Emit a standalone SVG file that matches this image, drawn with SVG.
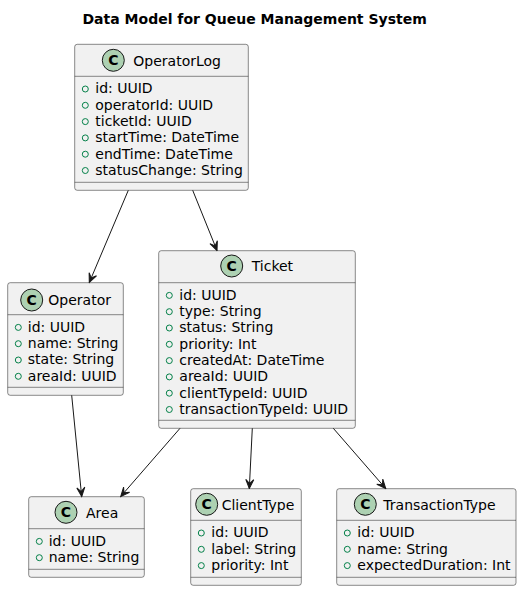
<svg xmlns="http://www.w3.org/2000/svg" width="522" height="591" viewBox="0 0 522 591">
<style>
.box{fill:#F1F1F1;stroke:#181818;stroke-width:0.5}
.sep{stroke:#181818;stroke-width:0.5}
.ci{fill:#ADD1B2;stroke:#181818;stroke-width:1}
.cl{font-family:"DejaVu Sans",sans-serif;font-size:14px;font-weight:bold;fill:#000;text-anchor:middle}
.nm{font-family:"DejaVu Sans",sans-serif;font-size:14px;fill:#000}
.at{font-family:"DejaVu Sans",sans-serif;font-size:14px;fill:#000}
.vis{fill:none;stroke:#038048;stroke-width:1}
.ttl{font-family:"DejaVu Sans",sans-serif;font-size:14px;font-weight:bold;fill:#000}
.ln{stroke:#181818;stroke-width:1;fill:none;marker-end:url(#arr)}
</style>
<defs>
<marker id="arr" markerUnits="userSpaceOnUse" viewBox="-10 -5 11 10" markerWidth="11" markerHeight="10" refX="0" refY="0" orient="auto">
<path d="M0,0 L-9,-4 L-5,0 L-9,4 Z" fill="#181818" stroke="#181818" stroke-width="1" stroke-linejoin="miter"/>
</marker>
</defs>
<rect width="522" height="591" fill="#FFFFFF"/>
<text class="ttl" x="82.5" y="23.5">Data Model for Queue Management System</text>

<g id="OperatorLog">
<rect class="box" x="74.7" y="44.3" width="173.6" height="146" rx="2.5"/>
<circle class="ci" cx="113.3" cy="60.3" r="11"/>
<text class="cl" x="113.3" y="65.3">C</text>
<text class="nm" x="133.3" y="65.5">OperatorLog</text>
<line class="sep" x1="74.7" y1="76.3" x2="248.3" y2="76.3"/>
<circle class="vis" cx="85.3" cy="89" r="3"/><text class="at" x="95.3" y="93.3">id: UUID</text>
<circle class="vis" cx="85.3" cy="105.3" r="3"/><text class="at" x="95.3" y="109.6">operatorId: UUID</text>
<circle class="vis" cx="85.3" cy="121.6" r="3"/><text class="at" x="95.3" y="125.9">ticketId: UUID</text>
<circle class="vis" cx="85.3" cy="137.9" r="3"/><text class="at" x="95.3" y="142.2">startTime: DateTime</text>
<circle class="vis" cx="85.3" cy="154.2" r="3"/><text class="at" x="95.3" y="158.5">endTime: DateTime</text>
<circle class="vis" cx="85.3" cy="170.5" r="3"/><text class="at" x="95.3" y="174.8">statusChange: String</text>
<line class="sep" x1="74.7" y1="182.3" x2="248.3" y2="182.3"/>
</g>

<g id="Operator">
<rect class="box" x="7.7" y="282.7" width="115.6" height="112.6" rx="2.5"/>
<circle class="ci" cx="31.7" cy="300" r="11"/>
<text class="cl" x="31.7" y="305">C</text>
<text class="nm" x="48.3" y="305.3">Operator</text>
<line class="sep" x1="7.7" y1="314.7" x2="123.3" y2="314.7"/>
<circle class="vis" cx="18.3" cy="327.4" r="3"/><text class="at" x="27.8" y="331.7">id: UUID</text>
<circle class="vis" cx="18.3" cy="343.7" r="3"/><text class="at" x="27.8" y="348">name: String</text>
<circle class="vis" cx="18.3" cy="360" r="3"/><text class="at" x="27.8" y="364.3">state: String</text>
<circle class="vis" cx="18.3" cy="376.3" r="3"/><text class="at" x="27.8" y="380.6">areaId: UUID</text>
<line class="sep" x1="7.7" y1="387.3" x2="123.3" y2="387.3"/>
</g>

<g id="Ticket">
<rect class="box" x="158.7" y="250.7" width="196.6" height="177.6" rx="2.5"/>
<circle class="ci" cx="231.7" cy="266" r="11"/>
<text class="cl" x="231.7" y="271">C</text>
<text class="nm" x="251.7" y="271.3">Ticket</text>
<line class="sep" x1="158.7" y1="282.7" x2="355.3" y2="282.7"/>
<circle class="vis" cx="169.3" cy="295.4" r="3"/><text class="at" x="179.3" y="299.7">id: UUID</text>
<circle class="vis" cx="169.3" cy="311.7" r="3"/><text class="at" x="179.3" y="316">type: String</text>
<circle class="vis" cx="169.3" cy="328" r="3"/><text class="at" x="179.3" y="332.3">status: String</text>
<circle class="vis" cx="169.3" cy="344.3" r="3"/><text class="at" x="179.3" y="348.6">priority: Int</text>
<circle class="vis" cx="169.3" cy="360.6" r="3"/><text class="at" x="179.3" y="364.9">createdAt: DateTime</text>
<circle class="vis" cx="169.3" cy="376.9" r="3"/><text class="at" x="179.3" y="381.2">areaId: UUID</text>
<circle class="vis" cx="169.3" cy="393.2" r="3"/><text class="at" x="179.3" y="397.5">clientTypeId: UUID</text>
<circle class="vis" cx="169.3" cy="409.5" r="3"/><text class="at" x="179.3" y="413.8">transactionTypeId: UUID</text>
<line class="sep" x1="158.7" y1="420.3" x2="355.3" y2="420.3"/>
</g>

<g id="Area">
<rect class="box" x="28.7" y="496.7" width="115.6" height="80.6" rx="2.5"/>
<circle class="ci" cx="66" cy="512.3" r="11"/>
<text class="cl" x="66" y="517.3">C</text>
<text class="nm" x="86" y="517.6">Area</text>
<line class="sep" x1="28.7" y1="528.7" x2="144.3" y2="528.7"/>
<circle class="vis" cx="39.3" cy="541.4" r="3"/><text class="at" x="48.7" y="545.7">id: UUID</text>
<circle class="vis" cx="39.3" cy="557.7" r="3"/><text class="at" x="48.7" y="562">name: String</text>
<line class="sep" x1="28.7" y1="569.3" x2="144.3" y2="569.3"/>
</g>

<g id="ClientType">
<rect class="box" x="190.7" y="488.7" width="110.6" height="96.6" rx="2.5"/>
<circle class="ci" cx="206.7" cy="504.3" r="11"/>
<text class="cl" x="206.7" y="509.3">C</text>
<text class="nm" x="221.7" y="509.6">ClientType</text>
<line class="sep" x1="190.7" y1="520.3" x2="301.3" y2="520.3"/>
<circle class="vis" cx="201.3" cy="533" r="3"/><text class="at" x="211.3" y="537.3">id: UUID</text>
<circle class="vis" cx="201.3" cy="549.3" r="3"/><text class="at" x="211.3" y="553.6">label: String</text>
<circle class="vis" cx="201.3" cy="565.6" r="3"/><text class="at" x="211.3" y="569.9">priority: Int</text>
<line class="sep" x1="190.7" y1="577.3" x2="301.3" y2="577.3"/>
</g>

<g id="TransactionType">
<rect class="box" x="336.7" y="488.7" width="179.3" height="96.6" rx="2.5"/>
<circle class="ci" cx="365.3" cy="504.3" r="11"/>
<text class="cl" x="365.3" y="509.3">C</text>
<text class="nm" x="383.3" y="509.6">TransactionType</text>
<line class="sep" x1="336.7" y1="520.3" x2="516" y2="520.3"/>
<circle class="vis" cx="347.3" cy="533" r="3"/><text class="at" x="357.3" y="537.3">id: UUID</text>
<circle class="vis" cx="347.3" cy="549.3" r="3"/><text class="at" x="357.3" y="553.6">name: String</text>
<circle class="vis" cx="347.3" cy="565.6" r="3"/><text class="at" x="357.3" y="569.9">expectedDuration: Int</text>
<line class="sep" x1="336.7" y1="577.3" x2="516" y2="577.3"/>
</g>

<g id="connectors">
<path class="ln" d="M128.3,190.3 L89.3,282.5"/>
<path class="ln" d="M192.7,190.3 L217,250.5"/>
<path class="ln" d="M71.7,395.3 L81.7,496.5"/>
<path class="ln" d="M180,428.3 L120.7,496.5"/>
<path class="ln" d="M252.3,428.3 L249.3,488.5"/>
<path class="ln" d="M333.3,428.3 L385.7,488.5"/>
</g>
</svg>
